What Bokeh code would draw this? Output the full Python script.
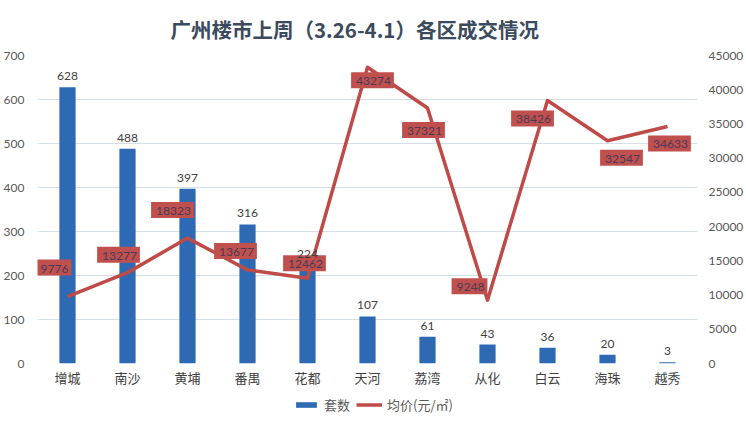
from bokeh.plotting import figure
from bokeh.models import (ColumnDataSource, Range1d, LinearAxis, FixedTicker,
                          Legend, LegendItem, FactorRange, LabelSet)
from bokeh.layouts import column
from bokeh.core.properties import value
from bokeh.embed import file_html
from bokeh.resources import INLINE

# ---- data ----
districts = ["增城", "南沙", "黄埔", "番禺", "花都", "天河", "荔湾", "从化", "白云", "海珠", "越秀"]
units = [628, 488, 397, 316, 224, 107, 61, 43, 36, 20, 3]
prices = [9776, 13277, 18323, 13677, 12462, 43274, 37321, 9248, 38426, 32547, 34633]
left_ticks = [0, 100, 200, 300, 400, 500, 600, 700]
right_ticks = [0, 5000, 10000, 15000, 20000, 25000, 30000, 35000, 40000, 45000]
title_text = "广州楼市上周（3.26-4.1）各区成交情况"
bar_name = "套数"
line_name = "均价(元/㎡)"

# label placement of the price callouts (pixels, screen: +x right, +y down)
price_label_dx = [-14, -9, -15, -12, -3, 5, -4, -18, -15, 14, 2]
price_label_dy = [-29, -18, -28, -19, -15, 13, 22, -14, 18, 17, 17]

NUM_FONT = "Lato"
CJK_FONT = "Noto Sans CJK SC"
BAR_COLOR = "#2E6AB3"
LINE_COLOR = "#BE4B48"

src = ColumnDataSource(dict(
    d=districts, u=units, p=prices,
    ut=[str(v) for v in units], pt=[str(v) for v in prices],
    dx=price_label_dx, dy=price_label_dy,
))

p = figure(x_range=FactorRange(*districts, range_padding=0),
           y_range=Range1d(0, 700),
           frame_width=660, frame_height=308,
           min_border_left=29, min_border_right=41,
           min_border_top=47, min_border_bottom=30,
           output_backend="svg", toolbar_location=None,
           background_fill_color="white", border_fill_color="white")
p.outline_line_color = None

p.extra_y_ranges = {"price": Range1d(0, 45000)}

# bars
bars = p.vbar(x="d", top="u", width=0.27, source=src,
              fill_color=BAR_COLOR, line_color=None)

# line
line = p.line(x="d", y="p", source=src, y_range_name="price",
              line_color=LINE_COLOR, line_width=3.5, line_join="round")

# bar value labels
bar_labels = LabelSet(x="d", y="u", text="ut", source=src, y_offset=7,
                      text_align="center", text_baseline="bottom",
                      text_font=value(NUM_FONT), text_font_size="12px",
                      text_color="#404040")
p.add_layout(bar_labels)

# price callouts
p.text(x="d", y="p", text="pt", source=src, y_range_name="price",
       x_offset="dx", y_offset="dy",
       text_align="center", text_baseline="middle",
       text_font=value(NUM_FONT), text_font_size="12px",
       text_color="#4A3A58",
       background_fill_color="#C0504D", background_fill_alpha=1.0,
       padding=(5, 3, 5, 3))

# axes
p.yaxis.ticker = FixedTicker(ticks=left_ticks)
right_axis = LinearAxis(y_range_name="price", ticker=FixedTicker(ticks=right_ticks))
p.add_layout(right_axis, "right")

for ax in [p.yaxis[0], right_axis]:
    ax.axis_line_color = None
    ax.major_tick_line_color = None
    ax.minor_tick_line_color = None
    ax.major_label_text_font = NUM_FONT
    ax.major_label_text_font_size = "12px"
    ax.major_label_text_color = "#595959"
p.yaxis[0].major_label_standoff = 7
right_axis.major_label_standoff = 5

p.xaxis.axis_line_color = None
p.xaxis.major_tick_line_color = None
p.xaxis.major_tick_in = 0
p.xaxis.major_tick_out = 0
p.xaxis.major_label_text_font = CJK_FONT
p.xaxis.major_label_text_font_size = "13px"
p.xaxis.major_label_text_color = "#404040"
p.xaxis.major_label_standoff = 4

p.xgrid.grid_line_color = None
p.ygrid.ticker = FixedTicker(ticks=left_ticks)
p.ygrid.grid_line_color = "#D5DFE9"
p.ygrid.grid_line_width = 1

# title
p.title.text = title_text
p.title.align = "left"
p.title.offset = 133
p.title.text_font = CJK_FONT
p.title.text_font_size = "20.5px"
p.title.text_font_style = "bold"
p.title.text_color = "#3B4A5C"
p.title.standoff = 23

# legend strip below the chart (key glyphs sit outside its visible range)
lf = figure(width=730, height=26, x_range=Range1d(0, 1), y_range=Range1d(0, 1),
            x_axis_type=None, y_axis_type=None, min_border=0,
            output_backend="svg", toolbar_location=None,
            background_fill_color="white", border_fill_color="white")
lf.outline_line_color = None
lf.xgrid.visible = False
lf.ygrid.visible = False
kb = lf.vbar(x=[5], top=[5], bottom=[4], width=0.5, fill_color=BAR_COLOR, line_color=None)
kl = lf.line(x=[5, 6], y=[5, 5], line_color=LINE_COLOR, line_width=3.5)

legend = Legend(items=[LegendItem(label=bar_name, renderers=[kb]),
                       LegendItem(label=line_name, renderers=[kl])],
                orientation="horizontal", location=(256, 5),
                label_text_font=CJK_FONT, label_text_font_size="13px",
                label_text_color="#595959",
                glyph_width=26, glyph_height=7,
                spacing=6, padding=0, margin=0,
                border_line_color=None, background_fill_alpha=0)
lf.add_layout(legend, "center")

page = column(p, lf, spacing=0)
open("out.html", "w").write(file_html(page, INLINE))
